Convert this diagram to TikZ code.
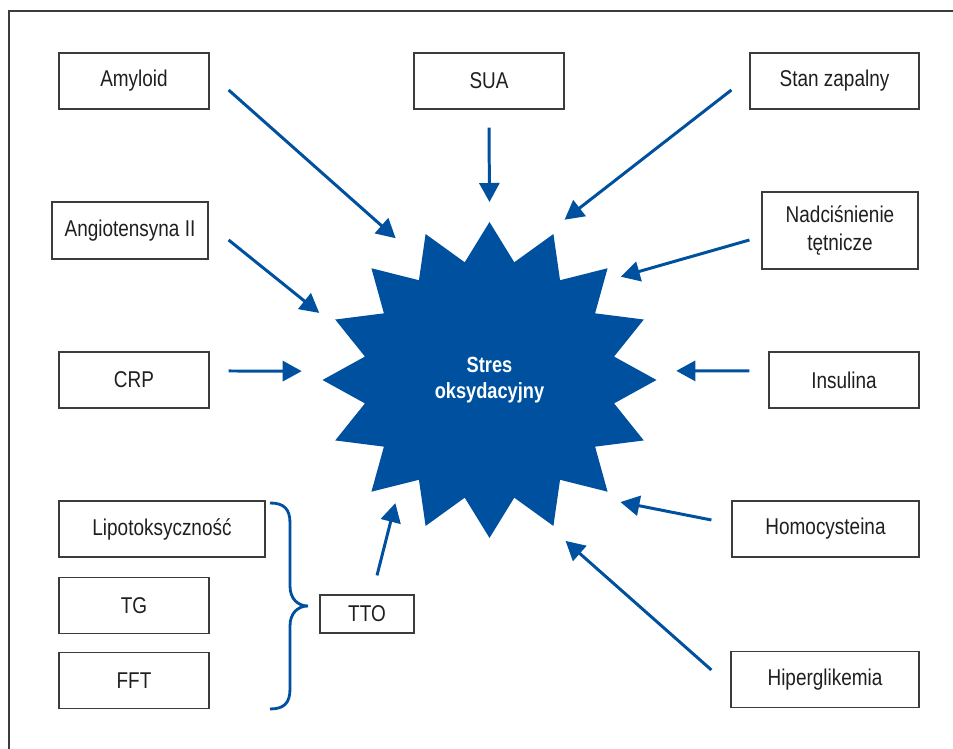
\documentclass[tikz,border=0pt]{standalone}
\usepackage{fontspec}
\setmainfont{Liberation Sans}[FakeStretch=0.83]
\usetikzlibrary{positioning,arrows.meta}
\definecolor{stressblue}{RGB}{0,80,160}
\definecolor{framegray}{RGB}{60,60,60}

\begin{document}
\begin{tikzpicture}[
    x=0.02cm, y=0.02cm,
    factor/.style={rectangle, draw=framegray, line width=0.7pt, inner sep=2pt, minimum width=3cm, minimum height=1.12cm, align=center, font=\fontsize{13}{16}\selectfont, text=black!88},
    burst/.style={inner sep=0pt, text=white, align=center, font=\bfseries\fontsize{12.5}{15}\selectfont},
    feed/.style={-{Triangle[length=0.38cm, width=0.4cm]}, line width=1.7pt, draw=stressblue},
    node distance=0.38cm
  ]
    \useasboundingbox (0,0) rectangle (953,749);
    \draw[framegray, line width=0.8pt] (9,0) -- (9,738) -- (953,738);

    % Centre: 16-point star
    \coordinate (hub) at (489.5,369);
    \fill[stressblue, shift={(hub)}] (90:167 and 158)
      \foreach \a in {0,22.5,...,337.5} { -- (\a+101.25:127 and 120) -- (\a+112.5:167 and 158) } -- cycle;
    \node[burst] (stress) at (hub) {Stres\\oksydacyjny};

    % Left column
    \node[factor] (amyloid) at (134,668) {Amyloid};
    \node[factor, minimum width=3.12cm, minimum height=1.14cm] (angio) at (130,518.5) {Angiotensyna II};
    \node[factor] (crp) at (134,369) {CRP};
    \node[factor, minimum width=4.12cm] (lipo) at (162,220) {Lipotoksyczność};
    \node[factor, below=of lipo.south west, anchor=north west] (tg) {TG};
    \node[factor, below=0.36cm of tg.south west, anchor=north west] (fft) {FFT};
    \node[factor, minimum width=1.88cm, minimum height=0.76cm] (tto) at (367,135) {TTO};

    % Top and right column
    \node[factor] (sua) at (489,668) {SUA};
    \node[factor, minimum width=3.38cm] (stan) at (834.5,668) {Stan zapalny};
    \node[factor, minimum width=3.12cm, minimum height=1.54cm] (nadc) at (840,518.5) {Nadciśnienie\\tętnicze};
    \node[factor] (insulina) at (844,369) {Insulina};
    \node[factor, minimum width=3.74cm] (homo) at (825.5,220) {Homocysteina};
    \node[factor, minimum width=3.76cm] (hiper) at (825,69.5) {Hiperglikemia};

    % Brace over Lipotoksyczność, TG, FFT
    \draw[stressblue, line width=1.6pt] (270,246) .. controls (284,246) and (290,240) .. (290,226) -- (290,163)
      .. controls (290,150) and (298,143) .. (308,143)
      .. controls (298,143) and (290,136) .. (290,123) -- (290,60)
      .. controls (290,46) and (284,40) .. (270,40);

    % Arrows into the star
    \draw[feed] ([shift={(19,-9)}]amyloid.east) -- ([shift={(123.5:170)}]stress.center);
    \draw[feed] ([shift={(0,-18)}]sua.south) -- ([shift={(90:178)}]stress.center);
    \draw[feed] ([shift={(-18,-9)}]stan.west) -- ([shift={(64.9:177)}]stress.center);
    \draw[feed] ([shift={(20,-9.5)}]angio.east) -- ([shift={(158.5:183)}]stress.center);
    \draw[feed] ([shift={(-12,-9.5)}]nadc.west) -- ([shift={(38.2:167)}]stress.center);
    \draw[feed] ([shift={(19,9)}]crp.east) -- ([shift={(177.3:188)}]stress.center);
    \draw[feed] ([shift={(-19,9)}]insulina.west) -- ([shift={(2.8:187)}]stress.center);
    \draw[feed] ([shift={(-20,9)}]homo.west) -- ([shift={(-43:179)}]stress.center);
    \draw[feed] ([shift={(-19,9.5)}]hiper.west) -- ([shift={(-64.7:178)}]stress.center);
    \draw[feed] ([shift={(10,19)}]tto.north) -- ([shift={(-127.4:155)}]stress.center);
  \end{tikzpicture}
\end{document}
